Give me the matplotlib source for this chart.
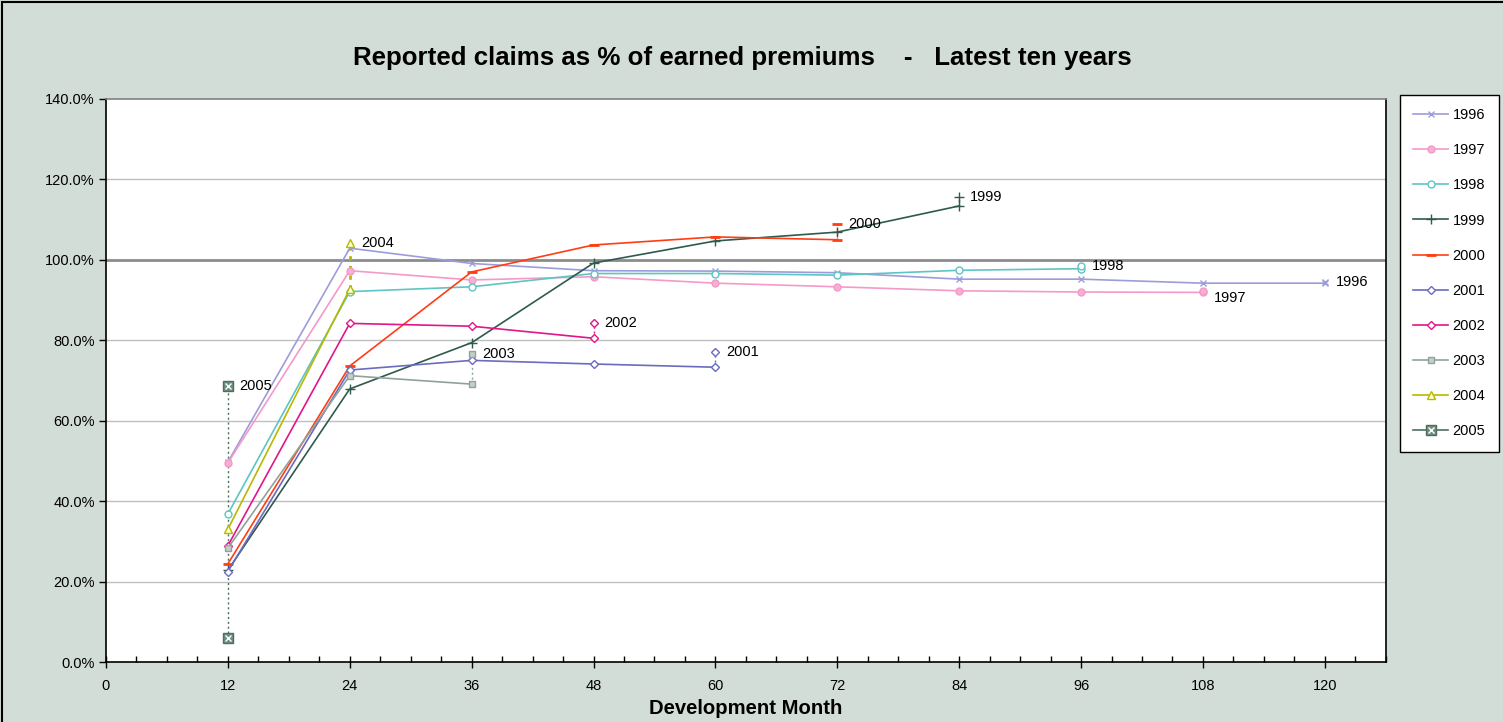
import matplotlib
matplotlib.use("Agg")
import matplotlib.pyplot as plt
from matplotlib.patches import Rectangle
from matplotlib.ticker import MultipleLocator, FuncFormatter

plt.rcParams["font.family"] = ["Liberation Sans", "DejaVu Sans"]

# development months on the x axis
months = [12, 24, 36, 48, 60, 72, 84, 96, 108, 120]

# reported claims as % of earned premiums, one list per underwriting year
years = ["1996", "1997", "1998", "1999", "2000", "2001", "2002", "2003", "2004", "2005"]
y1996 = [49.7, 102.9, 99.1, 97.3, 97.2, 96.8, 95.2, 95.2, 94.2, 94.2]
y1997 = [49.5, 97.3, 95.0, 95.8, 94.2, 93.3, 92.3, 92.0, 91.9]
y1998 = [36.8, 92.1, 93.3, 96.6, 96.6, 96.2, 97.4, 97.8]
y1999 = [22.8, 67.9, 79.4, 99.2, 104.7, 106.9, 113.4]
y2000 = [24.4, 73.6, 97.0, 103.7, 105.7, 105.0]
y2001 = [22.5, 72.6, 75.0, 74.1, 73.3]
y2002 = [28.9, 84.2, 83.5, 80.5]
y2003 = [28.3, 71.2, 69.1]
y2004 = [33.0, 92.7]
y2005 = [6.0]
# latest estimate per year, drawn as a separate point at the last month
latest = [94.5, 92.3, 98.4, 115.6, 109.0, 77.2, 84.3, 76.6, 104.2, 68.7]

series = [y1996, y1997, y1998, y1999, y2000, y2001, y2002, y2003, y2004, y2005]

styles = {
    "1996": dict(color="#9C9CDB", marker="x", ms=5, mfc="#9C9CDB", mec="#9C9CDB"),
    "1997": dict(color="#F39AC8", marker="o", ms=5, mfc="#F5B0D3", mec="#F39AC8"),
    "1998": dict(color="#5EC4C4", marker="o", ms=5, mfc="white", mec="#5EC4C4"),
    "1999": dict(color="#2F5A4E", marker="+", ms=7, mfc="#2F5A4E", mec="#2F5A4E"),
    "2000": dict(color="#FF3D14", marker="_", ms=7, mfc="#FF3D14", mec="#FF3D14", mew=2),
    "2001": dict(color="#6B6BC0", marker="D", ms=4, mfc="white", mec="#6B6BC0"),
    "2002": dict(color="#E0168A", marker="D", ms=4, mfc="white", mec="#E0168A"),
    "2003": dict(color="#8FA39B", marker="s", ms=5, mfc="#C2D0C9", mec="#8FA39B"),
    "2004": dict(color="#B8B800", marker="^", ms=6, mfc="#FFFFCC", mec="#B8B800"),
    "2005": dict(color="#4E6E60", marker="s", ms=7, mfc="#6F8F80", mec="#4E6E60"),
}
label_offset = {"1997": (8, -5)}

fig = plt.figure(figsize=(15.03, 7.22), dpi=100)
fig.patch.set_facecolor("#D3DDD8")
fig.patches.append(Rectangle((0.0015, -0.02), 1.03, 1.017, transform=fig.transFigure,
                             fill=False, edgecolor="black", linewidth=1.5))

ax = fig.add_axes([0.0705, 0.0831, 0.8515, 0.7798])
ax.set_facecolor("white")

handles = []
for name, vals, last in zip(years, series, latest):
    st = dict(styles[name])
    mew = st.pop("mew", 1.0)
    x = months[:len(vals)]
    line, = ax.plot(x, vals, lw=1.2, mew=mew, label=name, zorder=3, **st)
    # dotted link from the last reported value to the latest estimate
    lw_link = 2.0 if name == "2004" else 1.0
    ax.plot([x[-1], x[-1]], [vals[-1], last], color=st["color"], lw=lw_link,
            ls=(0, (1.5, 2)), zorder=2)
    ax.plot([x[-1]], [last], ls="none", mew=mew, zorder=4, **{k: v for k, v in st.items() if k != "color"})
    h = line
    if name == "2005":
        ax.plot(x, vals, ls="none", marker="x", ms=5, mec="white", mew=1, zorder=5)
        ax.plot([x[-1]], [last], ls="none", marker="x", ms=5, mec="white", mew=1, zorder=5)
        over, = ax.plot([], [], ls="none", marker="x", ms=5, mec="white", mew=1)
        h = (line, over)
    handles.append(h)
    ax.annotate(name, (x[-1], last), xytext=label_offset.get(name, (8, 0)),
                textcoords="offset points", va="center", ha="left", fontsize=10.5,
                color="black", zorder=6)

ax.set_xlim(0, 126)
ax.set_ylim(0, 140)
ax.xaxis.set_major_locator(MultipleLocator(12))
ax.xaxis.set_minor_locator(MultipleLocator(3))
ax.yaxis.set_major_locator(MultipleLocator(20))
ax.yaxis.set_major_formatter(FuncFormatter(lambda v, p: f"{v:.1f}%"))
ax.set_xticks([0, 12, 24, 36, 48, 60, 72, 84, 96, 108, 120])

ax.tick_params(axis="x", which="major", direction="inout", length=9, width=1, labelsize=10.5, pad=8)
ax.tick_params(axis="x", which="minor", direction="in", length=4, width=1)
ax.tick_params(axis="y", which="major", direction="out", length=5, width=1, labelsize=10.5, pad=3)

for v in range(20, 140, 20):
    if v == 100:
        ax.axhline(v, color="#8C8C8C", lw=2, zorder=1)
    else:
        ax.axhline(v, color="#C0C0C0", lw=1, zorder=1)

for side in ["left", "bottom", "right"]:
    ax.spines[side].set_color("black")
    ax.spines[side].set_linewidth(1.2)
ax.spines["top"].set_color("#808080")
ax.spines["top"].set_linewidth(1.2)

fig.text(0.494, 1 - 58 / 722, "Reported claims as % of earned premiums    -   Latest ten years",
         ha="center", va="center", fontsize=18.6, fontweight="bold")
ax.set_xlabel("Development Month", fontsize=14.6, fontweight="bold", labelpad=4)

leg = fig.legend(handles, years, loc="upper left", bbox_to_anchor=(1400 / 1503, 1 - 95 / 722),
                 bbox_transform=fig.transFigure, fontsize=10.5, labelspacing=1.45,
                 handlelength=2.4, handletextpad=0.3, borderpad=0.9, borderaxespad=0,
                 fancybox=False, framealpha=1, edgecolor="black")
leg.get_frame().set_linewidth(1.0)

fig.savefig("out.png", dpi=100, facecolor=fig.get_facecolor())
